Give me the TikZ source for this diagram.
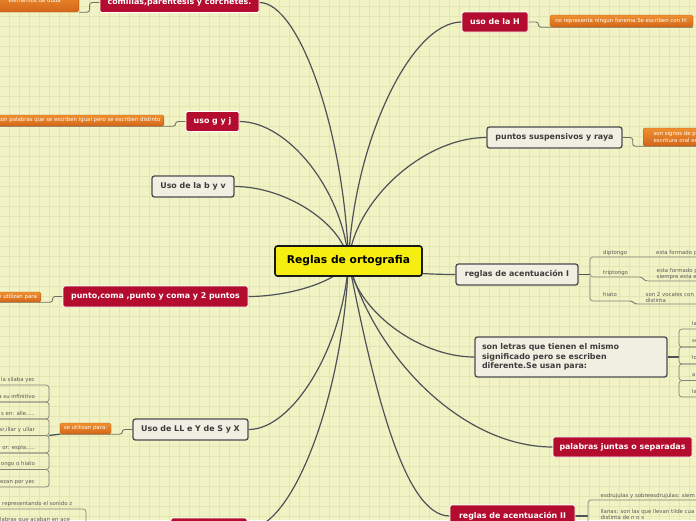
\documentclass[tikz,border=0pt]{standalone}
\usepackage{fontspec}
\setmainfont{DejaVu Sans}
\usetikzlibrary{calc}
\pgfdeclarelayer{bg}
\pgfsetlayers{bg,main}
\definecolor{bgc}{HTML}{F1F3C4}
\definecolor{gridc}{HTML}{E1E6B3}
\definecolor{redc}{HTML}{B30C2F}
\definecolor{greyfill}{HTML}{F0EFE1}
\definecolor{greyline}{HTML}{4B4D50}
\definecolor{greytext}{HTML}{3C3C3C}
\definecolor{yel}{HTML}{F6EE0E}
\definecolor{orT}{HTML}{EF902E}
\definecolor{orB}{HTML}{D2661A}
\definecolor{conn}{HTML}{4E5258}
\definecolor{subc}{HTML}{6E6E66}
\definecolor{childc}{HTML}{85857A}
\definecolor{childtext}{HTML}{5A5A5A}
\tikzset{
  centerbox/.style={draw=black!90, line width=1.6pt, fill=yel, rounded corners=2.5pt, text=black,
    font=\fontsize{10.7}{12}\selectfont\bfseries, inner sep=0pt},
  redbox/.style={draw=white, line width=0.8pt, fill=redc, rounded corners=1.5pt, text=white,
    font=\fontsize{7.9}{9.5}\selectfont\bfseries, inner sep=0pt},
  greybox/.style={draw=greyline, line width=1.3pt, fill=greyfill, rounded corners=2.5pt, text=greytext,
    font=\fontsize{7.9}{9.6}\selectfont\bfseries, inner sep=0pt},
  orbox/.style={top color=orT, bottom color=orB, draw=orB!85!black, line width=0.3pt, rounded corners=1.5pt,
    text=white, font=\fontsize{5.4}{6.4}\selectfont, inner sep=0pt},
  mainconn/.style={draw=conn, line width=1.2pt},
  subconn/.style={draw=subc, line width=0.8pt, rounded corners=2.5pt},
  hubconn/.style={draw=conn, line width=1.3pt},
  childline/.style={draw=childc, line width=0.7pt, rounded corners=3pt},
  childtxt/.style={font=\fontsize{5.4}{6.6}\selectfont, text=childtext, inner sep=0pt},
}
\newcommand\mmbranch[2][0.05]{%
  \draw[mainconn] let \p1=(ctr.center), \p2=(#2) in (\p1) .. controls ({\x1+#1*(\x2-\x1)},{\y1+0.5*(\y2-\y1)}) and ({\x2-0.45*(\x2-\x1)},{\y2}) .. (\p2);}
\begin{document}
\begin{tikzpicture}[x=1pt,y=-1pt]
\useasboundingbox (0,0) rectangle (696,520);

% central
\node[centerbox, minimum width=147pt, minimum height=30pt] (ctr) at (348.5,261) {Reglas de ortografia};

% red topics
\node[redbox, minimum width=159pt, minimum height=20pt] (com) at (179.5,2.5) {comillas,parentesis y corchetes.};
\node[redbox, minimum width=53pt, minimum height=20pt] (ggj) at (212.5,121.5) {uso g y j};
\node[redbox, minimum width=66pt, minimum height=20pt] (hh) at (495,22) {uso de la H};
\node[redbox, minimum width=185pt, minimum height=21pt] (pc) at (155.5,296.5) {punto,coma ,punto y coma y 2 puntos};
\node[redbox, minimum width=139pt, minimum height=20pt] (pj) at (622.5,447) {palabras juntas o separadas};
\node[redbox, minimum width=125pt, minimum height=22pt] (ac2) at (512.5,516) {reglas de acentuación II};
\node[redbox, minimum width=76pt, minimum height=22pt] (bot) at (209,529) {};

% grey topics
\node[greybox, minimum width=82pt, minimum height=21pt] (bv) at (193,186.5) {Uso de la b y v};
\node[greybox, minimum width=135pt, minimum height=21pt] (ps) at (554.5,137.5) {puntos suspensivos y raya};
\node[greybox, minimum width=122pt, minimum height=21pt] (ac1) at (517,274.5) {reglas de acentuación I};
\node[greybox, minimum width=192pt, minimum height=40pt, align=left, text width=178pt] (sl) at (571,357)
  {son letras que tienen el mismo\\significado pero se escriben\\diferente.Se usan para:};
\node[greybox, minimum width=115pt, minimum height=21pt] (ll) at (190.5,429.5) {Uso de LL e Y de S y X};

% orange subtopics
\node[orbox, anchor=east, minimum width=95pt, minimum height=20pt] (comO) at (79,2) {};
\node[childtxt, text=white, anchor=base east] (comOt) at (61,2.5) {elementos de duda};
\node[orbox, anchor=east, minimum height=11pt, inner xsep=3.5pt] (ggjO) at (164,120.5) {son palabras que se escriben igual pero se escriben distinto};
\node[orbox, minimum width=143pt, minimum height=12pt] (hhO) at (621.5,21) {no representa ningun fonema.Se escriben con H:};
\node[orbox, anchor=west, minimum width=70pt, minimum height=18pt, inner xsep=4pt, align=left] (psO) at (643,137) {son signos de pun\\escritura oral en l};
\node[orbox, anchor=east, minimum height=10pt, inner xsep=4pt] (pcO) at (41,297) {se utilizan para};
\node[orbox, minimum width=51pt, minimum height=11pt] (llO) at (85.5,428.5) {se utilizan para:};

% children of "se utilizan para:" (left)
\node[childtxt, anchor=base east] (l1) at (35,381) {la silaba yec};
\node[childtxt, anchor=base east] (l2) at (35,398) {a su infinitivo};
\node[childtxt, anchor=base east] (l3) at (35,415) {s en: alle.....};
\node[childtxt, anchor=base east] (l4) at (35,431.5) {ar,illar y ullar};
\node[childtxt, anchor=base east] (l5) at (35,449) {or: espla.....};
\node[childtxt, anchor=base east] (l6) at (35,465.5) {ongo o hiato};
\node[childtxt, anchor=base east] (l7) at (35,483) {ezan por yec};

% children of reglas de acentuacion I
\node[childtxt, anchor=base west] (d1) at (603,254) {diptongo};
\node[childtxt, anchor=base west] (d2) at (656,254) {esta formado p};
\node[childtxt, anchor=base west] (t1) at (603,274) {triptongo};
\node[childtxt, anchor=south west, align=left] (t2) at (656.5,280) {esta formado p\\siempre esta e};
\node[childtxt, anchor=base west] (h1) at (603,296.5) {hiato};
\node[childtxt, anchor=south west, align=left] (h2) at (645.5,303) {son 2 vocales con\\distinta};

% children of son letras
\node[childtxt, anchor=base west] (s1) at (692,325) {la};
\node[childtxt, anchor=base west] (s2) at (692,342) {se};
\node[childtxt, anchor=base west] (s3) at (692,359) {lo};
\node[childtxt, anchor=base west] (s4) at (692,376) {al};
\node[childtxt, anchor=base west] (s5) at (692,393) {la};

% children of reglas de acentuacion II
\node[childtxt, anchor=base west] (e1) at (600.5,497) {esdrujulas y sobreesdrujulas: siem};
\node[childtxt, anchor=north west, align=left] (e2) at (600.5,509) {llanas: son las que llevan tilde cua\\distinta de n o s};

% bottom-left children
\node[childtxt, anchor=base west] (b1) at (2,505) {representando el sonido z};
\node[childtxt, anchor=base west] (b2) at (0,521) {labras que acaban en ace};

\begin{pgfonlayer}{bg}
\fill[bgc] (0,0) rectangle (696,520);
\foreach \gx in {9.3,19.3,...,696} \draw[gridc, line width=0.6pt] (\gx,0) -- (\gx,520);
\foreach \gy in {6.7,16.7,...,520} \draw[gridc, line width=0.6pt] (0,\gy) -- (696,\gy);

% main branches
\mmbranch{com.east}
\mmbranch{ggj.east}
\mmbranch{bv.east}
\mmbranch{pc.east}
\mmbranch{ll.east}
\mmbranch{bot.east}
\mmbranch{hh.west}
\mmbranch{ps.west}
\mmbranch{ac1.west}
\mmbranch{sl.west}
\mmbranch[0.12]{pj.west}
\mmbranch[0.25]{ac2.west}

% elbows to orange subtopics
\draw[subconn] (com.west) -- ++(-10,0) |- (comO.south east);
\draw[subconn] (ggj.west) -- ++(-10,0) |- (ggjO.south east) -- (ggjO.south west);
\draw[subconn] (hh.east) -- ++(10,0) |- (hhO.south west) -- (hhO.south east);
\draw[subconn] (ps.east) -- ++(10,0) |- (psO.south west) -- (psO.south east);
\draw[subconn] (pc.west) -- ++(-10,0) |- (pcO.south east) -- (pcO.south west);
\draw[subconn] (ll.west) -- ++(-10,0) |- (llO.south east) -- (llO.south west);

% left bracket under "se utilizan para:"
\coordinate (lhub) at (49,435.5);
\draw[hubconn] (llO.south west) -- (lhub);
\foreach \ya/\yb in {385/402,402/419,419/435.5,435.5/453,453/469.5,469.5/487}
  \draw[childline] (-5,\ya) -- (49,\ya) -- (49,\yb) -- (-5,\yb);

% right bracket of reglas de acentuacion I
\coordinate (ahub) at (590,274.5);
\draw[hubconn] (ac1.east) -- (ahub);
\draw[childline] (705,257) -- (590,257) -- (590,277) -- (642,277) -- (645,281) -- (705,281);
\draw[childline] (590,277) -- (590,301) -- (632,301) -- (635,304) -- (705,304);

% right bracket of son letras
\coordinate (shub) at (679,357);
\draw[hubconn] (sl.east) -- (shub);
\foreach \ya/\yb in {329/347,347/364,364/380.5,380.5/397}
  \draw[childline] (705,\ya) -- (679,\ya) -- (679,\yb) -- (705,\yb);

% bracket of reglas de acentuacion II
\coordinate (chub) at (588,516);
\draw[hubconn] (ac2.east) -- (chub);
\draw[childline] (705,500) -- (588,500) -- (588,530);

% bottom-left bracket
\draw[childline] (-5,509) -- (86,509) -- (86,530);
\end{pgfonlayer}
\end{tikzpicture}
\end{document}
